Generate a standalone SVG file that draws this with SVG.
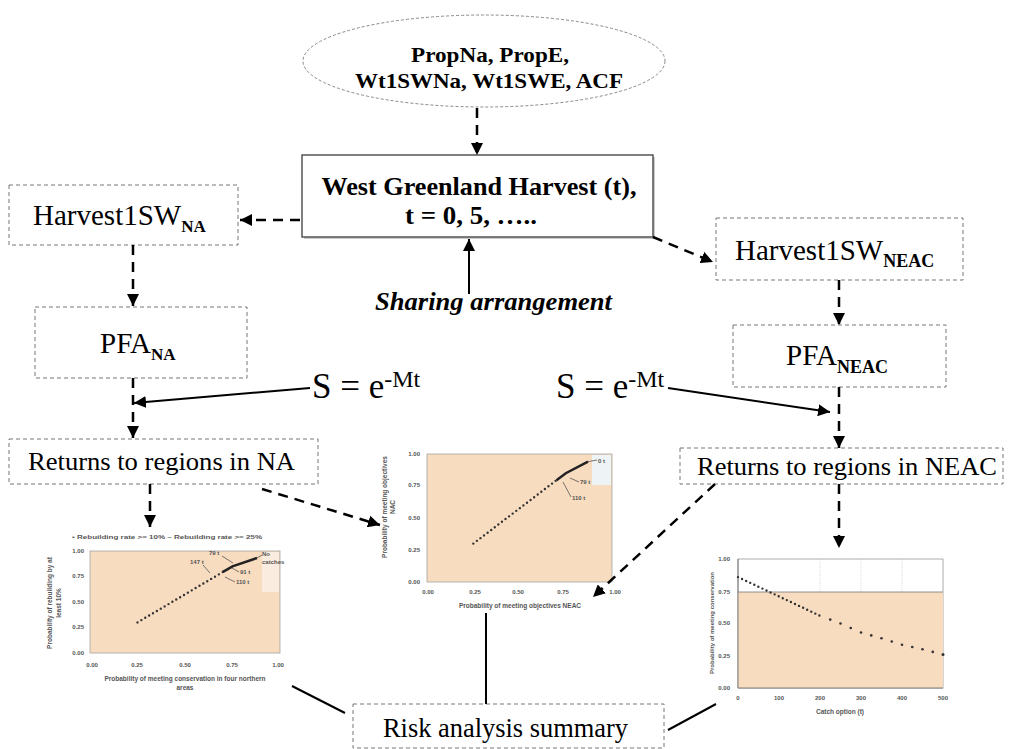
<svg xmlns="http://www.w3.org/2000/svg" width="1009" height="749" viewBox="0 0 1009 749">
<defs>
<marker id="ah" viewBox="0 0 12 12" refX="12" refY="6" markerWidth="12" markerHeight="12" markerUnits="userSpaceOnUse" orient="auto">
<path d="M0,0 L12,6 L0,12 z" fill="#000" stroke="none"/>
</marker>
</defs>
<style>
.dbox{fill:#fff;stroke:#777;stroke-width:1;stroke-dasharray:4 3}
.t{font-family:"Liberation Serif","Times New Roman",serif;fill:#000}
.dash{fill:none;stroke:#000;stroke-width:2.5;stroke-dasharray:10 7}
.sol{fill:none;stroke:#000;stroke-width:2}
.ct{font-family:"Liberation Sans",Arial,sans-serif;font-size:6px;font-weight:bold;fill:#555}
.plot{fill:#f8dcc0;stroke:#999;stroke-width:0.7}
.dots{fill:none;stroke:#333;stroke-width:2.4;stroke-linecap:round;stroke-dasharray:0 4.5}
.lead{fill:none;stroke:#555;stroke-width:0.8}
</style>
<rect width="1009" height="749" fill="#fff"/>

<g id="params">
<ellipse cx="484" cy="61" rx="181" ry="46" fill="#fff" stroke="#888" stroke-width="1" stroke-dasharray="3 2"/>
<text class="t" x="490" y="62" font-size="22" font-weight="bold" text-anchor="middle" textLength="158" lengthAdjust="spacingAndGlyphs">PropNa, PropE,</text>
<text class="t" x="489" y="88" font-size="22" font-weight="bold" text-anchor="middle" textLength="268" lengthAdjust="spacingAndGlyphs">Wt1SWNa, Wt1SWE, ACF</text>
</g>

<g id="harvest">
<rect x="304" y="157" width="351" height="82" fill="#ccc"/>
<rect x="302" y="155" width="351" height="82" fill="#fff" stroke="#555" stroke-width="1.5"/>
<text class="t" x="479" y="195" font-size="26" font-weight="bold" text-anchor="middle" textLength="315" lengthAdjust="spacingAndGlyphs">West Greenland Harvest (t),</text>
<text class="t" x="405" y="224" font-size="26" font-weight="bold" textLength="132" lengthAdjust="spacingAndGlyphs">t = 0, 5, …..</text>
</g>

<g id="sharing">
<text class="t" x="375" y="310" font-size="26" font-weight="bold" font-style="italic" textLength="237" lengthAdjust="spacingAndGlyphs">Sharing arrangement</text>
</g>

<g id="harvestNA">
<rect class="dbox" x="9" y="185" width="229" height="60"/>
<text class="t" x="33" y="225" font-size="29">Harvest1SW<tspan font-size="17" font-weight="bold" dy="7">NA</tspan></text>
</g>

<g id="pfaNA">
<rect class="dbox" x="35" y="307" width="212" height="71"/>
<text class="t" x="100" y="353" font-size="29">PFA<tspan font-size="17" font-weight="bold" dy="7">NA</tspan></text>
</g>

<g id="harvestNEAC">
<rect class="dbox" x="716" y="218" width="247" height="62"/>
<text class="t" x="735" y="260" font-size="29">Harvest1SW<tspan font-size="18" font-weight="bold" dy="7">NEAC</tspan></text>
</g>

<g id="pfaNEAC">
<rect class="dbox" x="733" y="325" width="213" height="62"/>
<text class="t" x="786" y="365" font-size="29">PFA<tspan font-size="18" font-weight="bold" dy="8">NEAC</tspan></text>
</g>

<g id="sLeft">
<text class="t" x="312" y="398" font-size="35">S = e<tspan font-size="24" dy="-11">-Mt</tspan></text>
</g>
<g id="sRight">
<text class="t" x="556" y="398" font-size="35">S = e<tspan font-size="24" dy="-11">-Mt</tspan></text>
</g>

<g id="returnsNA">
<rect class="dbox" x="9" y="439" width="309" height="45"/>
<text class="t" x="28" y="470" font-size="26" textLength="267" lengthAdjust="spacingAndGlyphs">Returns to regions in NA</text>
</g>

<g id="returnsNEAC">
<rect class="dbox" x="680" y="448" width="323" height="36"/>
<text class="t" x="697" y="475" font-size="26" textLength="300" lengthAdjust="spacingAndGlyphs">Returns to regions in NEAC</text>
</g>

<g id="risk">
<rect class="dbox" x="353" y="704" width="311" height="44"/>
<text class="t" x="383" y="737" font-size="27" textLength="245" lengthAdjust="spacingAndGlyphs">Risk analysis summary</text>
</g>

<g id="chartNA">
<text class="ct" x="72" y="539" font-size="7.5" textLength="190" lengthAdjust="spacingAndGlyphs">• Rebuilding rate &gt;= 10%   – Rebuilding rate &gt;= 25%</text>
<rect class="plot" x="90" y="551" width="190" height="102"/>
<rect x="262" y="552" width="17" height="40" fill="#fbece0"/>
<g class="ct" text-anchor="end">
<text x="84" y="553">1.00</text><text x="84" y="578">0.75</text><text x="84" y="604">0.50</text><text x="84" y="629">0.25</text><text x="84" y="655">0.00</text>
</g>
<g class="ct" text-anchor="middle">
<text x="92" y="667">0.00</text><text x="137" y="667">0.25</text><text x="185" y="667">0.50</text><text x="232" y="667">0.75</text><text x="278" y="667">1.00</text>
<text x="185" y="681" font-size="6.5">Probability of meeting conservation in four northern</text>
<text x="185" y="690" font-size="6.5">areas</text>
</g>
<g class="ct" text-anchor="middle" transform="rotate(-90 52 603)">
<text x="52" y="603" font-size="6.5">Probability of rebuilding by at</text>
<text x="52" y="612" font-size="6.5">least 10%</text>
</g>
<line class="dots" x1="137.5" y1="622.4" x2="223" y2="571.9"/>
<polyline points="223,571.9 232.5,566.3 257,558" fill="none" stroke="#222" stroke-width="2.5"/>
<g class="ct" font-size="5.5">
<text x="209" y="555">79 t</text><text x="190" y="564">147 t</text><text x="262" y="556">No</text><text x="262" y="564">catches</text><text x="240" y="574">91 t</text><text x="236" y="584">110 t</text>
</g>
<path class="lead" d="M222,556 L233,563 M203,565 L210,573 M239,572 L232,568 M235,582 L225,577 M257,558 L262,555"/>
</g>

<g id="chartNEAC">
<rect class="plot" x="427" y="454" width="185" height="128"/>
<rect x="592" y="455" width="19" height="30" fill="#eef3f6"/>
<g class="ct" text-anchor="end">
<text x="420" y="456">1.00</text><text x="420" y="487">0.75</text><text x="420" y="520">0.50</text><text x="420" y="552">0.25</text><text x="420" y="584">0.00</text>
</g>
<g class="ct" text-anchor="middle">
<text x="428" y="594">0.00</text><text x="475" y="594">0.25</text><text x="518" y="594">0.50</text><text x="563" y="594">0.75</text><text x="615" y="594">1.00</text>
<text x="520" y="608" font-size="6.5">Probability of meeting objectives NEAC</text>
</g>
<g class="ct" text-anchor="middle" transform="rotate(-90 387 507)">
<text x="387" y="507" font-size="6.5">Probability of meeting objectives</text>
<text x="387" y="515" font-size="6.5">NAC</text>
</g>
<line class="dots" x1="473.3" y1="543.6" x2="556.5" y2="480.2"/>
<polyline points="556.5,480.2 565.8,473.2 588,461.7" fill="none" stroke="#222" stroke-width="2.5"/>
<g class="ct" font-size="5.5">
<text x="598" y="463">0 t</text><text x="580" y="484">79 t</text><text x="572" y="500">110 t</text>
</g>
<path class="lead" d="M588,461.7 L597,460 M570,478 L579,482 M563,482 L571,497"/>
</g>

<g id="chartCatch">
<rect x="738" y="559" width="205" height="129" fill="#fff" stroke="#888" stroke-width="0.7"/>
<rect x="738" y="592" width="205" height="96" fill="#f8dcc0"/>
<path d="M820,559 V592 M861,559 V592 M902,559 V592" stroke="#ccc" stroke-width="0.7" stroke-dasharray="1 1"/>
<line x1="738" y1="592" x2="943" y2="592" stroke="#777" stroke-width="0.8"/>
<line x1="738" y1="559" x2="738" y2="688" stroke="#666" stroke-width="0.8"/>
<line x1="738" y1="688" x2="943" y2="688" stroke="#666" stroke-width="0.8"/>
<g class="ct" text-anchor="end">
<text x="730" y="561">1.00</text><text x="730" y="594">0.75</text><text x="730" y="625">0.50</text><text x="730" y="658">0.25</text><text x="730" y="690">0.00</text>
</g>
<g class="ct" text-anchor="middle">
<text x="738" y="700">0</text><text x="779" y="700">100</text><text x="820" y="700">200</text><text x="861" y="700">300</text><text x="902" y="700">400</text><text x="943" y="700">500</text>
<text x="840" y="714" font-size="6.5">Catch option (t)</text>
</g>
<text class="ct" x="714" y="623" font-size="6.5" text-anchor="middle" transform="rotate(-90 714 623)">Probability of meeting conservation</text>
<polyline class="dots" points="738,577.1 779,596.4 820,615.8" stroke-dasharray="0 4"/>
<g fill="#333">
<circle cx="830.25" cy="619.6" r="1.3"/><circle cx="840.5" cy="623.5" r="1.3"/><circle cx="850.75" cy="628" r="1.3"/><circle cx="861" cy="632.5" r="1.3"/><circle cx="871.25" cy="635.4" r="1.3"/><circle cx="881.5" cy="638.3" r="1.3"/><circle cx="891.75" cy="641.5" r="1.3"/><circle cx="902" cy="644.8" r="1.3"/><circle cx="912.25" cy="647" r="1.3"/><circle cx="922.5" cy="649.3" r="1.3"/><circle cx="932.75" cy="651.9" r="1.3"/><circle cx="943" cy="654.5" r="1.5"/>
</g>
</g>

<g id="connectors">
<line class="dash" x1="477" y1="108" x2="477" y2="155" marker-end="url(#ah)"/>
<line class="dash" x1="300" y1="220" x2="240" y2="220" marker-end="url(#ah)"/>
<line class="dash" x1="653" y1="237" x2="713" y2="262" marker-end="url(#ah)"/>
<line class="sol" x1="469" y1="294" x2="469" y2="239" marker-end="url(#ah)"/>
<line class="dash" x1="133" y1="245" x2="133" y2="306" marker-end="url(#ah)"/>
<line class="dash" x1="133" y1="378" x2="133" y2="438" marker-end="url(#ah)"/>
<line class="sol" x1="310" y1="388" x2="134" y2="403" marker-end="url(#ah)"/>
<line class="dash" x1="839" y1="280" x2="839" y2="325" marker-end="url(#ah)"/>
<line class="dash" x1="839" y1="387" x2="839" y2="448" marker-end="url(#ah)"/>
<line class="sol" x1="668" y1="388" x2="830" y2="412" marker-end="url(#ah)"/>
<line class="dash" x1="839" y1="484" x2="839" y2="548" marker-end="url(#ah)"/>
<line class="dash" x1="715" y1="484" x2="593" y2="597" marker-end="url(#ah)"/>
<line class="dash" x1="262" y1="489" x2="380" y2="525" marker-end="url(#ah)"/>
<line class="dash" x1="150" y1="484" x2="150" y2="527" marker-end="url(#ah)"/>
<line class="sol" x1="292" y1="686" x2="345" y2="713"/>
<line class="sol" x1="486" y1="613" x2="486" y2="704"/>
<line class="sol" x1="668" y1="730" x2="716" y2="704"/>
</g>
</svg>
